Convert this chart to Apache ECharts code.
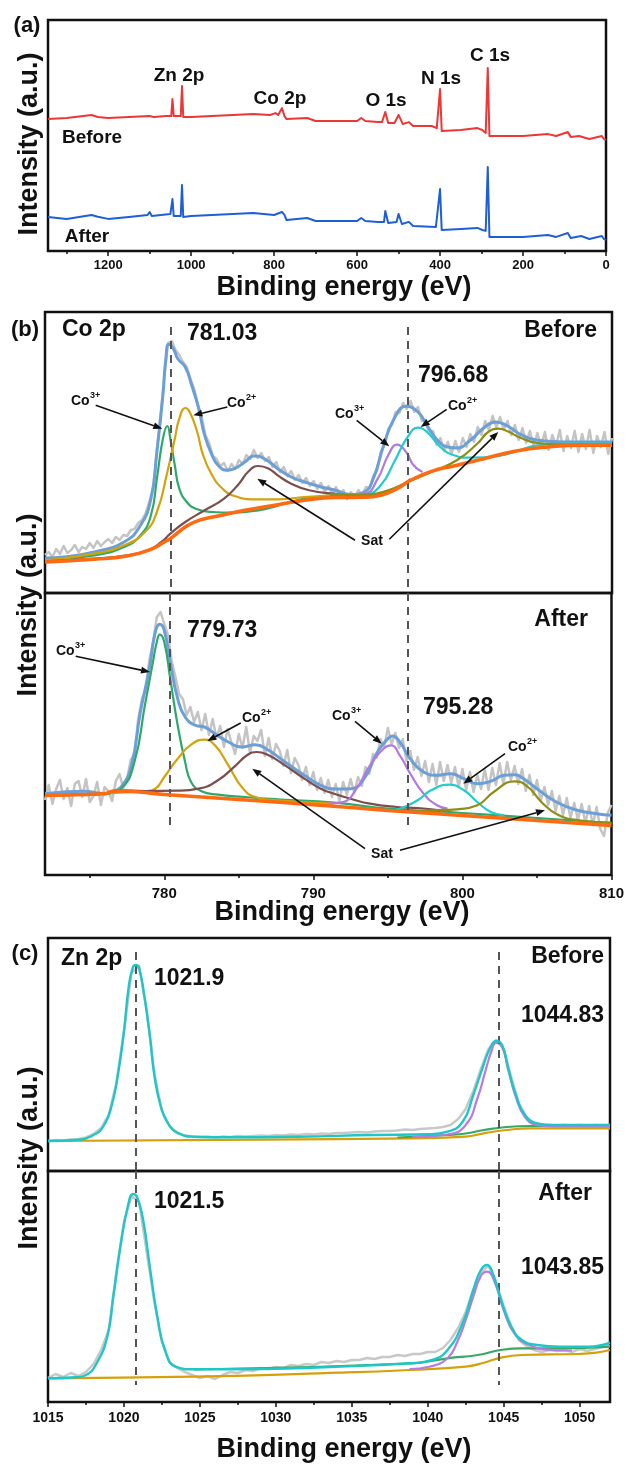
<!DOCTYPE html>
<html><head><meta charset="utf-8">
<script src="https://cdn.jsdelivr.net/npm/echarts@6/dist/echarts.min.js"></script>
<style>html,body{margin:0;padding:0;background:#fff}#c{width:627px;height:1466px}</style>
</head><body><div id="c"></div>
<script>
// ---------- (a) survey spectra: [binding energy eV, intensity a.u.] ----------
const surveyBefore = [[1345,57.1],[1300,57.6],[1240,58.9],[1225,58.0],[1200,57.6],[1150,58.0],[1100,58.4],[1090,58.0],[1060,58.4],[1048,58.4],[1045,65.8],[1042,58.4],[1025,58.4],[1022,71.4],[1019,58.0],[1000,58.0],[950,58.4],[900,58.9],[850,59.3],[810,58.9],[797,59.7],[790,58.9],[781,61.9],[775,58.4],[770,57.1],[720,57.6],[700,56.3],[650,56.3],[600,56.3],[590,57.6],[580,56.3],[550,55.8],[540,55.8],[532,60.2],[525,55.4],[510,55.4],[500,58.9],[490,55.0],[475,55.8],[465,54.1],[420,54.1],[408,53.2],[400,70.1],[396,51.9],[350,52.4],[310,53.2],[298,52.4],[290,51.1],[285,79.2],[281,49.8],[200,49.8],[140,50.6],[120,49.8],[92,51.5],[85,49.4],[65,49.8],[40,48.5],[10,49.8],[5,48.5],[0,48.1]];
const surveyAfter = [[1345,14.7],[1300,13.9],[1240,15.6],[1225,14.8],[1200,13.9],[1150,14.7],[1105,15.6],[1100,16.9],[1095,15.2],[1050,16.0],[1048,16.0],[1045,22.5],[1042,15.2],[1025,15.2],[1022,28.6],[1019,14.7],[1000,15.2],[950,15.6],[900,16.0],[850,16.5],[800,15.6],[781,16.9],[775,15.6],[770,13.4],[720,14.3],[700,13.0],[600,13.0],[590,14.3],[580,13.0],[550,12.6],[535,12.6],[532,17.3],[525,12.1],[505,12.6],[500,16.0],[492,11.7],[475,12.6],[465,10.8],[410,10.4],[400,26.8],[396,9.1],[350,9.5],[310,10.0],[298,9.1],[290,8.7],[285,36.4],[281,6.1],[200,6.1],[140,6.9],[120,6.1],[92,7.8],[85,5.6],[60,6.5],[40,5.2],[10,6.5],[5,5.2],[0,4.8]];

// ---------- (b) Co 2p, Before (raw data sampled every 0.25 eV from 772 eV) ----------
const coRawStart = 772, coRawStep = 0.25;
const coBeforeRaw = [
  38,41,36,44,39,47,40,43, 48,41,46,44,50,45,52,47, 51,54,50,56,53,58,57,63, 64,70,73,80,92,104,144,178,
  217,250,252,243,238,231,226,214, 204,189,176,158,150,137,134,127, 130,122,129,124,133,129,138,134,
  143,135,140,132,136,126,131,121, 126,117,122,113,118,110,115,107, 112,104,110,101,107,99,106,97,
  103,94,101,95,103,97,106,105, 117,122,141,148,164,168,181,180, 190,184,192,181,186,172,173,159,
  162,148,155,142,151,139,152,141, 155,146,159,151,166,158,172,163, 177,166,176,163,172,158,168,153,
  165,150,162,147,160,146,161,143, 158,147,163,142,157,145,162,141, 159,144,163,140,157,146,161,139, 155];
const coBeforeEnv = [[772,35],[773.3,36],[775.3,41],[777.3,51],[778.4,67.7],[779.1,94.3],[779.5,141],[779.9,197.7],[780.1,234.3],[780.3,248.7],[780.6,244.3],[780.9,234.3],[781.4,226],[781.8,209.3],[782.3,184.3],[782.7,157.7],[783.2,137.7],[783.6,127.7],[784.2,122.7],[784.7,124.3],[785.4,131],[786.0,137],[786.7,134.3],[787.6,124.3],[788.5,116],[789.4,111],[790.5,106],[791.4,103],[792.5,98.5],[793.4,101],[794.0,114.3],[794.7,147.7],[795.4,174.3],[796.2,186.7],[797.0,181],[797.6,167.7],[798.3,152.7],[799.0,146],[799.6,145],[800.5,152.7],[801.4,165],[802.2,171],[803.0,167],[803.9,158.3],[805.0,152.7],[806.8,151],[810,151]];
const coBeforeCo3a = [[772,32.7],[775.3,37.7],[777.3,46],[778.4,57.7],[779.1,77.7],[779.5,114.3],[779.9,154.3],[780.2,167],[780.4,154.3],[780.7,127.7],[781.0,104.3],[781.5,91],[782.1,84.3],[783.2,81],[784.5,80.3],[786.3,82.7],[788.1,89.3],[789.4,94.3],[791.4,98]];
const coBeforeCo2a = [[772,32.7],[775.3,39.3],[777.3,47.7],[778.7,61],[779.5,81],[780.2,121],[780.7,154.3],[781.0,174.3],[781.4,185],[781.7,181],[782.2,161],[782.6,137.7],[783.2,117.7],[783.9,104.3],[784.7,97],[786.1,93.7],[787.6,93.7],[789.4,96],[791.4,98]];
const coBeforeSat1 = [[772,31.7],[775.3,34.3],[777.5,37.7],[778.9,42.7],[779.8,51],[780.4,59.3],[781.4,71],[782.7,82.7],[784.0,94.3],[785.0,109.3],[785.6,121],[786.3,127],[787.0,124.3],[787.6,117.7],[788.5,109.3],[789.7,102.7],[791.4,99.3],[793,98],[795,101.5],[796.5,114]];
const coBeforeCo3b = [[791.1,98.3],[793.4,99.3],[794.3,114.3],[795.0,137.7],[795.6,148.3],[796.2,141],[796.7,127.7],[797.3,121]];
const coBeforeCo2b = [[791.1,97.7],[793.4,98.3],[794.5,107.7],[795.4,131],[796.3,156],[797.0,165.3],[797.6,161],[798.5,146],[799.4,137.7],[800.5,135.3],[802.4,137],[803.8,142.7],[805.0,147.7],[806.8,149.3],[810,149.3]];
const coBeforeSat2 = [[791.1,97.7],[793.4,98.3],[795.0,102.7],[796.3,111],[797.9,121],[799.6,132.7],[801.0,149.7],[801.7,161],[802.4,164.3],[803.0,161.7],[803.9,155],[805.0,150],[806.8,148.3],[810,148.3]];
const coBeforeBg = [[772,31],[775.3,33.7],[777.5,37],[779.1,43.7],[780.0,51],[780.4,54.3],[781.4,66],[782.3,72.7],[783.6,77],[785.4,82.7],[787.6,88.3],[789.4,92.7],[791.4,95.5],[793.4,95.7],[794.5,97.7],[795.6,104.3],[796.5,112.7],[797.9,121.7],[799.6,127.7],[801.4,134.3],[803.5,141.7],[805.7,146],[808.0,147.7],[810,147.7]];

// ---------- (b) Co 2p, After ----------
const coAfterRaw = [
  75,90,71,86,95,76,87,69, 91,94,78,96,73,79,93,70, 88,84,74,94,101,87,96,115, 121,156,176,185,215,233,258,263,
  251,240,214,198,181,176,160,168, 153,163,145,161,140,156,137,149, 128,146,133,121,141,127,148,122,
  139,134,145,119,137,116,131,124, 109,125,102,117,110,95,108,90, 103,85,97,82,95,78,91,74,
  93,80,96,82,98,89,108,101, 121,117,136,128,147,131,142,127, 136,114,124,105,118,99,114,93,
  111,90,113,94,110,92,108,88, 106,85,103,83,100,86,106,85, 107,90,112,91,113,95,109,91,
  106,84,100,80,95,74,88,70, 84,64,79,60,77,57,72,55, 71,52,69,50,68,46,39,62, 70];
const coAfterEnv = [[772,81.3],[773.3,83],[774.6,83.7],[776.0,81.3],[776.4,83],[777.1,88],[777.8,109.7],[778.4,163],[779.0,206.3],[779.4,243],[779.7,250.7],[780.0,244.7],[780.4,213],[780.9,176.3],[781.4,158],[782.1,149.7],[782.7,148],[783.4,141.3],[784.3,133],[785.2,128],[786.1,130.3],[787.0,124.7],[788.1,113],[789.4,99.7],[790.5,89.7],[791.4,86],[792.5,86.3],[793.4,96.3],[794.3,123],[795.0,136.3],[795.3,139],[795.8,133],[796.5,116.3],[797.4,103],[798.3,99.7],[799.2,101.3],[800.1,96.3],[801.0,91.3],[801.9,93.7],[802.8,99.7],[803.5,100.3],[804.1,96.3],[805.0,86.3],[806.3,73],[807.7,64.7],[809.0,61.3],[810,59.7]];
const coAfterCo3a = [[772,79.7],[776.0,81.3],[777.1,86.3],[778.0,113],[778.7,169.7],[779.2,209.7],[779.5,233],[779.7,240.3],[780.0,233],[780.4,196.3],[780.9,149.7],[781.4,113],[781.8,93],[782.5,83.7],[783.6,80.3],[785.4,78],[787.6,75.7],[791.4,72.3],[795,66.5],[800,62],[805,57],[810,52]];
const coAfterCo2a = [[772,79.7],[778.7,83.7],[779.4,86.3],[780.0,98],[780.9,116.3],[781.8,130.3],[782.7,135.3],[783.4,129.7],[784.3,109.7],[785.2,88],[786.1,78],[787.6,74.7],[791.4,71.3]];
const coAfterSat1 = [[772,79.7],[776.0,81.3],[776.9,84.7],[778.7,84],[780.9,84.3],[782.3,86.3],[783.6,94.7],[784.8,109.7],[785.6,120.3],[786.2,123],[787.0,119.7],[788.1,109.7],[789.4,96.3],[790.5,86.3],[791.4,81.3],[792.5,76.3],[793.8,71.3],[795.6,68],[797.0,67],[798.5,64.7]];
const coAfterCo3b = [[791,71.5],[792.0,73],[792.9,86.3],[793.8,109.7],[794.7,126.3],[795.2,129.7],[795.8,119.7],[796.5,101.3],[797.4,81.3],[798.3,69.7],[799.0,66.3]];
const coAfterCo2b = [[795.5,65],[796.1,68],[797.0,74.7],[797.9,84.7],[799.1,90.3],[800.1,84.7],[801.0,73],[801.9,63],[802.8,59.7]];
const coAfterSat2 = [[796.5,63],[797.9,64.7],[799.6,65.7],[801.0,69.7],[802.1,83],[803.5,93.7],[804.4,88],[805.3,73],[806.4,60.3],[807.8,54.7],[810,52.3]];
const coAfterBg = [[772,79.5],[774,80.3],[776,81.3],[776.6,84],[777,84],[780,80.5],[785,75.5],[790,70.3],[795,64.5],[800,59.5],[805,54.5],[810,49.5]];

// ---------- (c) Zn 2p (raw data sampled every 0.5 eV from 1015 eV) ----------
const znRawStart = 1015, znRawStep = 0.5;
const znBeforeRaw = [30,31,30.5,31.5,32,33.5,37,43,56,88, 140,198,205,160,98,60,45,38,35.5,34.5, 34,34.5,33.5,34.5,34,35,34.5,35,35.5,35, 36,35.5,36.5,36,37,36.5,37.5,37,38,38, 38.5,39,38.5,39.5,40,40,40.5,41.5,41,42, 42.5,43,44,46,52,62,80,102,122,131, 122,94,68,54,48,46.5,46,45.5,46,45.5, 46,45,46,45.5,46];
const znBeforeEnv = [[1015,30],[1016.8,31],[1018.0,36],[1018.7,46],[1019.2,66],[1019.6,96],[1020.0,139.3],[1020.3,182.7],[1020.6,204.3],[1020.8,206],[1021.0,202.7],[1021.3,179.3],[1021.7,136],[1022.0,96],[1022.4,66],[1022.9,47.7],[1023.6,37.7],[1024.6,34.3],[1026.6,33.7],[1031.5,34.3],[1036.4,36],[1040.1,36.7],[1041.3,39.3],[1042.3,49.3],[1043.0,76],[1043.6,102.7],[1044.1,122.7],[1044.5,130],[1044.9,126],[1045.3,102.7],[1045.8,76],[1046.4,56],[1047.2,47.7],[1048.2,46],[1052,46]];
const znBefore2p12 = [[1039,34],[1041.3,36.5],[1042.5,46],[1043.3,74],[1043.8,100],[1044.2,120],[1044.5,128],[1044.9,124],[1045.3,101],[1045.8,74],[1046.4,54],[1047.2,46],[1048.2,44.5],[1052,44.3]];
const znBeforeStep = [[1038,33.5],[1041.3,36],[1042.5,37.5],[1043.7,41],[1045.2,44],[1046.7,45],[1052,45]];
const znBeforeBg = [[1015,30],[1029.1,31.3],[1038.9,32.7],[1042.5,34.3],[1043.7,37.7],[1045.2,41],[1046.7,42.7],[1052,42.7]];

const znAfterRaw = [24,28,25,29,26,30,38,52,72,130, 180,206,200,150,100,60,40,34,30,27, 24,26,23,27,30,29,32,31,34,33, 35,34,37,36,38,37,40,39,41,40, 42,42,44,43,45,45,47,46,48,48, 50,50,54,62,74,90,112,130,136,120, 96,76,62,56,52,50,52,51,52,50, 53,51,53,55,56];
const znAfterEnv = [[1015,23.7],[1016.8,24.7],[1017.5,27],[1018.2,38.7],[1018.9,65.3],[1019.3,105.3],[1019.8,158.7],[1020.3,198.7],[1020.6,208],[1020.9,203.7],[1021.3,178.7],[1021.7,135.3],[1022.2,85.3],[1022.7,52],[1023.4,35.3],[1024.6,32.7],[1029.0,33],[1033.9,35.3],[1038.8,38.7],[1040.3,42],[1041.3,52],[1042.3,78.7],[1043.0,112],[1043.5,132],[1043.9,137],[1044.2,132],[1044.9,98.7],[1045.5,75.3],[1046.2,62],[1047.2,57],[1048.7,55.3],[1050.6,55.3],[1051.5,57],[1052,59.3]];
const znAfter2p12 = [[1038.8,33],[1040.1,35.3],[1041.3,43.7],[1042.0,62],[1042.5,82],[1043.0,105.3],[1043.5,126],[1043.9,130.3],[1044.4,120.3],[1045.0,92],[1045.7,68.7],[1046.7,57],[1048.2,52],[1049.5,51.5]];
const znAfterStep = [[1024.6,32.5],[1038.8,38.5],[1041.3,43.7],[1043.3,47],[1044.8,52],[1046.2,53.7],[1048.7,53.7],[1052,55.3]];
const znAfterBg = [[1015,23.7],[1024.6,25.3],[1034.2,29.3],[1038.8,32],[1042.5,35.3],[1043.7,39.3],[1044.9,44.7],[1046.2,47],[1049.9,48],[1051.1,49.3],[1052,52]];

// ---------- ticks & reference lines ----------
const ticksA = [0,200,400,600,800,1000,1200];
const minorA = [100,300,500,700,900,1100,1300];
const ticksB = [780,790,800,810];
const minorB = [775,785,795,805];
const ticksC = [1015,1020,1025,1030,1035,1040,1045,1050];
const minorC = [1017.5,1022.5,1027.5,1032.5,1037.5,1042.5,1047.5];
const coDashX = [780.4, 796.3];
const znDashX = [1020.8, 1044.7];

// ================= build =================
const FONT = '"Liberation Sans", Arial, sans-serif';
const withX = (vals, start, step) => vals.map((v, i) => [start + i * step, v]);

const grids = [
  {left:48, top:20, width:558, height:231},
  {left:45, top:312, width:567, height:281},
  {left:45, top:593, width:567, height:282},
  {left:48, top:938, width:562, height:233},
  {left:48, top:1171, width:562, height:231}
].map(g => Object.assign(g, {show:true, borderColor:'#111', borderWidth:2.5, backgroundColor:'rgba(0,0,0,0)', containLabel:false}));

function xAx(grid, min, max, opts) {
  const o = {gridIndex:grid, type:'value', min, max, position:'bottom', axisLine:{show:false}, splitLine:{show:false},
    axisTick:{show:false}, axisLabel:{show:false}};
  if (opts.inverse) o.inverse = true;
  if (opts.ticks) {
    o.axisTick = {show:true, inside:false, length:opts.len || 5, customValues:opts.ticks, lineStyle:{color:'#111', width:1.5}};
  }
  if (opts.labels) {
    o.axisLabel = {show:true, customValues:opts.labels, margin:opts.margin, color:'#111', fontSize:opts.fs, fontWeight:'bold', fontFamily:FONT,
      formatter: v => String(v)};
  }
  return o;
}
const xAxis = [
  xAx(0, 0, 1345, {inverse:true, ticks:ticksA, labels:ticksA, margin:8, fs:13}),
  xAx(0, 0, 1345, {inverse:true, ticks:minorA, len:3}),
  xAx(1, 772, 810, {}),
  xAx(2, 772, 810, {ticks:ticksB, labels:ticksB, margin:11, fs:15}),
  xAx(2, 772, 810, {ticks:minorB, len:3}),
  xAx(3, 1015, 1052, {}),
  xAx(4, 1015, 1052, {ticks:ticksC, labels:ticksC, margin:9, fs:14}),
  xAx(4, 1015, 1052, {ticks:minorC, len:3})
];
const yAxis = [[0,100],[1,281],[2,282],[3,233],[4,231]].map(([g, m]) => ({gridIndex:g, type:'value', min:0, max:m, show:false}));

function ln(xi, yi, data, color, width, smooth, z, extra) {
  return Object.assign({type:'line', xAxisIndex:xi, yAxisIndex:yi, data, showSymbol:false, symbol:'none',
    smooth: smooth ? 0.5 : false,
    lineStyle:{color, width, join:'round'}, z: z || 2, silent:true, animation:false}, extra || {});
}
function dash(xs, top, bot) {
  return {silent:true, symbol:['none','none'], label:{show:false}, animation:false,
    lineStyle:{type:[8,6], color:'#555', width:2},
    data: xs.map(x => [{coord:[x, top]}, {coord:[x, bot]}])};
}

const C = {gray:'#c4c4c4', env:'#6b9fd7', green:'#2fa86a', gold:'#d4a20a', brown:'#7d4e4e', purple:'#b27ae0', cyan:'#22cccc', olive:'#8e8e12', orange:'#ff6a10'};

const series = [
  ln(0, 0, surveyBefore, '#ee3636', 2, false, 3),
  ln(0, 0, surveyAfter, '#1f5fd6', 2, false, 3),
  // Co before
  ln(2, 1, withX(coBeforeRaw, coRawStart, coRawStep), C.gray, 2.5, false, 2),
  ln(2, 1, coBeforeEnv, C.env, 3, true, 3, {markLine: dash(coDashX, 266, 0)}),
  ln(2, 1, coBeforeCo3a, C.green, 2.2, true, 4),
  ln(2, 1, coBeforeCo2a, C.gold, 2.2, true, 4),
  ln(2, 1, coBeforeSat1, C.brown, 2.2, true, 4),
  ln(2, 1, coBeforeCo3b, C.purple, 2.2, true, 4),
  ln(2, 1, coBeforeCo2b, C.cyan, 2.2, true, 4),
  ln(2, 1, coBeforeSat2, C.olive, 2.2, true, 4),
  ln(2, 1, coBeforeBg, C.orange, 3.5, true, 5),
  // Co after
  ln(3, 2, withX(coAfterRaw, coRawStart, coRawStep), C.gray, 2.5, false, 2),
  ln(3, 2, coAfterEnv, C.env, 3, true, 3, {markLine: dash(coDashX, 282, 50)}),
  ln(3, 2, coAfterCo3a, C.green, 2.2, true, 4),
  ln(3, 2, coAfterCo2a, C.gold, 2.2, true, 4),
  ln(3, 2, coAfterSat1, C.brown, 2.2, true, 4),
  ln(3, 2, coAfterCo3b, C.purple, 2.2, true, 4),
  ln(3, 2, coAfterCo2b, C.cyan, 2.2, true, 4),
  ln(3, 2, coAfterSat2, C.olive, 2.2, true, 4),
  ln(3, 2, coAfterBg, C.orange, 3.5, true, 5),
  // Zn before
  ln(5, 3, withX(znBeforeRaw, znRawStart, znRawStep), '#c8c8c8', 2.5, false, 2),
  ln(5, 3, znBeforeBg, '#d6a00a', 2.2, true, 3),
  ln(5, 3, znBeforeStep, '#3aa864', 2.2, true, 3),
  ln(5, 3, znBefore2p12, '#b77ce0', 2.2, true, 4),
  ln(5, 3, znBeforeEnv, '#1fc6c6', 2.4, true, 5, {markLine: dash(znDashX, 219, 0)}),
  // Zn after
  ln(6, 4, withX(znAfterRaw, znRawStart, znRawStep), '#c8c8c8', 2.5, false, 2),
  ln(6, 4, znAfterBg, '#d6a00a', 2.2, true, 3),
  ln(6, 4, znAfterStep, '#3aa864', 2.2, true, 3),
  ln(6, 4, znAfter2p12, '#b77ce0', 2.2, true, 4),
  ln(6, 4, znAfterEnv, '#1fc6c6', 2.4, true, 5, {markLine: dash(znDashX, 231, 17)})
];

// ---------- annotations ----------
const G = [];
function T(text, x, y, size, align, extra) {
  G.push(Object.assign({type:'text', x, y, z:100, silent:true,
    style:{text, font:'bold ' + size + 'px ' + FONT, fill:'#111', align, verticalAlign:'middle'}}, extra || {}));
}
function ion(x, y, sup) {
  T('Co', x, y, 14, 'left');
  T(sup, x + 19, y - 5, 9, 'left');
}
function arrow(x1, y1, x2, y2) {
  const a = Math.atan2(y2 - y1, x2 - x1), L = 9, W = 3.5;
  const bx = x2 - L * Math.cos(a), by = y2 - L * Math.sin(a);
  G.push({type:'line', z:100, silent:true, shape:{x1, y1, x2:bx, y2:by}, style:{stroke:'#111', lineWidth:1.6}});
  G.push({type:'polygon', z:100, silent:true, shape:{points:[[x2, y2], [bx - W * Math.sin(a), by + W * Math.cos(a)], [bx + W * Math.sin(a), by - W * Math.cos(a)]]}, style:{fill:'#111'}});
}
T('(a)', 27, 26, 22, 'center');
T('(b)', 25, 330, 22, 'center');
T('(c)', 25, 954, 22, 'center');
T('Zn 2p', 179, 76, 19, 'center');
T('Co 2p', 280, 99, 19, 'center');
T('O 1s', 386, 101, 19, 'center');
T('N 1s', 441, 79, 19, 'center');
T('C 1s', 490, 56, 19, 'center');
T('Before', 92, 138, 19, 'center');
T('After', 87, 237, 19, 'center');
T('Co 2p', 62, 330, 23, 'left');
T('781.03', 187, 334, 23, 'left');
T('Before', 597, 331, 23, 'right');
T('796.68', 418, 376, 23, 'left');
T('779.73', 187, 631, 23, 'left');
T('After', 588, 620, 23, 'right');
T('795.28', 423, 708, 23, 'left');
T('Sat', 372, 541, 14, 'center');
T('Sat', 382, 854, 14, 'center');
T('Zn 2p', 61, 959, 23, 'left');
T('1021.9', 154, 979, 23, 'left');
T('Before', 604, 957, 23, 'right');
T('1044.83', 521, 1016, 23, 'left');
T('1021.5', 154, 1202, 23, 'left');
T('After', 592, 1194, 23, 'right');
T('1043.85', 521, 1268, 23, 'left');
T('Binding energy (eV)', 344, 288, 27, 'center');
T('Binding energy (eV)', 342, 913, 27, 'center');
T('Binding energy (eV)', 344, 1450, 27, 'center');
T('Intensity (a.u.)', 30, 144, 27, 'center', {rotation: Math.PI / 2});
T('Intensity (a.u.)', 29, 605, 27, 'center', {rotation: Math.PI / 2});
T('Intensity (a.u.)', 30, 1158, 27, 'center', {rotation: Math.PI / 2});
ion(71, 401, '3+'); ion(227, 403, '2+'); ion(335, 414, '3+'); ion(448, 406, '2+');
ion(56, 651, '3+'); ion(242, 718, '2+'); ion(332, 716, '3+'); ion(508, 747, '2+');
arrow(95.7, 405.3, 162.3, 428.7); arrow(227.3, 407, 193.3, 415.3); arrow(356.7, 420.3, 389.3, 446.3);
arrow(446.7, 409.3, 420.7, 427); arrow(355, 540.3, 257.3, 478.7); arrow(389.3, 539.3, 498.3, 432);
arrow(75.7, 656.3, 150, 672); arrow(240.7, 723, 207.3, 741); arrow(355, 721.3, 381.7, 743.7);
arrow(505, 753.7, 463.3, 783.7); arrow(365, 848.7, 252.3, 768.7); arrow(400, 850.3, 545, 810.3);

const chart = echarts.init(document.getElementById('c'), null, {renderer:'canvas', width:627, height:1466});
chart.setOption({animation:false, backgroundColor:'#fff', grid:grids, xAxis, yAxis, series, graphic:{elements:G}});
</script></body></html>
